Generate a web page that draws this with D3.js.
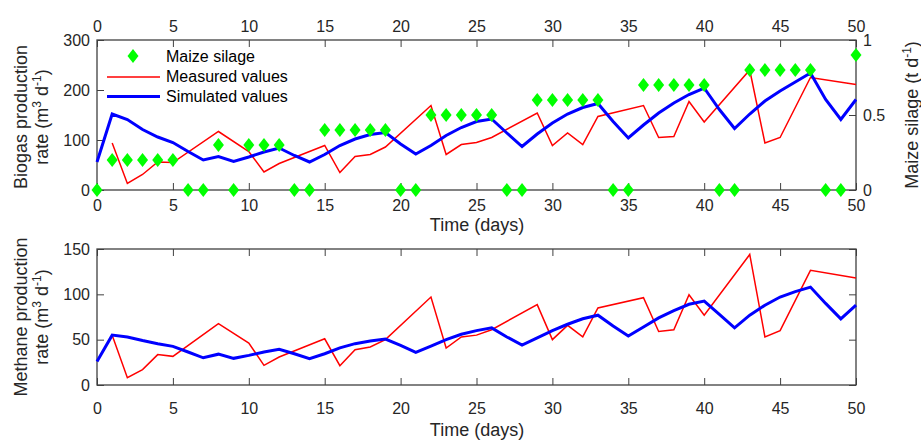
<!DOCTYPE html>
<meta charset="utf-8">
<script src="https://d3js.org/d3.v7.min.js"></script>
<style>
  body { margin: 0; background: #fff; font-family: Arial, "Liberation Sans", sans-serif; }
  .tick text { font-size: 16px; fill: #262626; font-family: Arial, "Liberation Sans", sans-serif; }
  .tick line { stroke: #404040; stroke-width: 1; }
  .title { font-size: 18px; fill: #262626; }
  .legend text { font-size: 16px; fill: #000; }
</style>
<div id="chart"></div>
<script>

// day index 0..50
var days = d3.range(0, 51);
var xTicks = [0, 5, 10, 15, 20, 25, 30, 35, 40, 45, 50];

// maize silage fed per day (t/d), right axis of top plot
var maize = [0, 0.2, 0.2, 0.2, 0.2, 0.2, 0, 0, 0.3, 0, 0.3, 0.3, 0.3, 0, 0,
  0.4, 0.4, 0.4, 0.4, 0.4, 0, 0, 0.5, 0.5, 0.5, 0.5, 0.5, 0, 0,
  0.6, 0.6, 0.6, 0.6, 0.6, 0, 0, 0.7, 0.7, 0.7, 0.7, 0.7, 0, 0,
  0.8, 0.8, 0.8, 0.8, 0.8, 0, 0, 0.9];

// days with a measurement
var measDays = [1, 2, 3, 4, 5, 8, 10, 11, 12, 15, 16, 17, 18, 19, 22, 23, 24, 25, 26,
  29, 30, 31, 32, 33, 36, 37, 38, 39, 40, 43, 44, 45, 47, 50];

var biogasMeasured = [94, 13, 31, 56, 55, 117, 77, 36, 53, 89, 35, 67, 71, 86, 169, 71, 91, 95, 105,
  154, 89, 114, 91, 147, 169, 105, 107, 177, 136, 240, 94, 105, 225, 211];

var biogasSimulated = [56, 152, 141, 121, 106, 95, 77, 60, 67, 57, 66, 76, 84, 69, 56,
  71, 89, 102, 111, 115, 92, 72, 89, 109, 125, 137, 142, 114, 87,
  112, 134, 152, 165, 173, 137, 104, 130, 154, 174, 191, 204, 161, 123,
  152, 178, 198, 216, 234, 181, 141, 181];

var methaneMeasured = [55, 8, 17, 33.5, 31.6, 67.6, 46.3, 21.7, 30.9, 51, 21.3, 39, 42, 50, 97, 40.8, 53, 55, 61,
  88.6, 50, 65.8, 53, 85, 96.3, 59, 61, 99.6, 77, 144, 53, 60, 126.5, 118];

var methaneSimulated = [26, 55, 53, 49, 45.6, 42.6, 36.4, 30, 34, 29.4, 32.7, 36.4, 39.3, 34.5, 29,
  34.5, 41, 45.6, 48.5, 50.7, 43.7, 36, 43, 50, 56, 60, 63, 53, 44,
  52, 60, 67, 73, 77, 65, 54, 64, 74, 82, 89, 92.6, 78, 63,
  77, 88, 97, 103, 108, 90, 73, 88];

var width = 921, height = 440;

var svg = d3.select("#chart")
  .append("svg")
  .attr("width", width)
  .attr("height", height);

var x = d3.scaleLinear().domain([0, 50]).range([97, 856]);
var yTop = d3.scaleLinear().domain([0, 300]).range([190, 40]);
var yMaize = d3.scaleLinear().domain([0, 1]).range([190, 40]);
var yBot = d3.scaleLinear().domain([0, 150]).range([385, 249]);

var tick = 7;
var boxColor = "#404040";

function frame(top, bottom, yScale, yTickVals, rightScale, rightTickVals, topLabels, bottomPad) {
  var g = svg.append("g");
  // bottom x axis
  g.append("g")
    .attr("transform", "translate(0," + bottom + ")")
    .call(d3.axisBottom(x).tickValues(xTicks).tickSize(-tick).tickSizeOuter(0).tickPadding(bottomPad));
  // top x axis
  g.append("g")
    .attr("transform", "translate(0," + top + ")")
    .call(d3.axisTop(x).tickValues(xTicks).tickSize(-tick).tickSizeOuter(0).tickPadding(8)
      .tickFormat(topLabels ? d3.format("d") : ""));
  // left y
  g.append("g")
    .attr("transform", "translate(97,0)")
    .call(d3.axisLeft(yScale).tickValues(yTickVals).tickSize(-tick).tickSizeOuter(0).tickPadding(7));
  // right y
  g.append("g")
    .attr("transform", "translate(856,0)")
    .call(d3.axisRight(rightScale).tickValues(rightTickVals).tickSize(-tick).tickSizeOuter(0).tickPadding(7)
      .tickFormat(rightScale === yMaize ? d3.format("") : ""));
  g.selectAll(".domain").remove();
  g.append("rect")
    .attr("x", 97).attr("y", top)
    .attr("width", 856 - 97).attr("height", bottom - top)
    .attr("fill", "none")
    .attr("stroke", boxColor)
    .attr("stroke-width", 1.3);
  return g;
}

frame(40, 190, yTop, [0, 100, 200, 300], yMaize, [0, 0.5, 1], true, 9.5);
frame(249, 385, yBot, [0, 50, 100, 150], yBot, [0, 50, 100, 150], false, 18);

var measLine = function(ys) {
  return d3.line().x(function(d, i) { return x(measDays[i]); }).y(function(d) { return ys(d); });
};
var simLine = function(ys) {
  return d3.line().x(function(d, i) { return x(days[i]); }).y(function(d) { return ys(d); });
};

// top plot lines
svg.append("path").datum(biogasMeasured)
  .attr("d", measLine(yTop)).attr("fill", "none").attr("stroke", "#ff0000").attr("stroke-width", 1.5);
svg.append("path").datum(biogasSimulated)
  .attr("d", simLine(yTop)).attr("fill", "none").attr("stroke", "#0000ff").attr("stroke-width", 3);

var diamond = "M0,-7L5.5,0L0,7L-5.5,0Z";
svg.selectAll(".maize")
  .data(maize)
  .enter().append("path")
  .attr("class", "maize")
  .attr("d", diamond)
  .attr("transform", function(d, i) { return "translate(" + x(days[i]) + "," + yMaize(d) + ")"; })
  .attr("fill", "#00ff00");

// bottom plot lines
svg.append("path").datum(methaneMeasured)
  .attr("d", measLine(yBot)).attr("fill", "none").attr("stroke", "#ff0000").attr("stroke-width", 1.5);
svg.append("path").datum(methaneSimulated)
  .attr("d", simLine(yBot)).attr("fill", "none").attr("stroke", "#0000ff").attr("stroke-width", 3);

// legend
var leg = svg.append("g").attr("class", "legend");
leg.append("path").attr("d", diamond).attr("transform", "translate(133,56)").attr("fill", "#00ff00");
leg.append("line").attr("x1", 107).attr("x2", 160).attr("y1", 77).attr("y2", 77)
  .attr("stroke", "#ff0000").attr("stroke-width", 1.5);
leg.append("line").attr("x1", 107).attr("x2", 160).attr("y1", 96.5).attr("y2", 96.5)
  .attr("stroke", "#0000ff").attr("stroke-width", 3);
leg.append("text").attr("x", 166).attr("y", 62).text("Maize silage");
leg.append("text").attr("x", 166).attr("y", 82).text("Measured values");
leg.append("text").attr("x", 166).attr("y", 102).text("Simulated values");

// titles
svg.append("text").attr("class", "title").attr("x", 477).attr("y", 231)
  .attr("text-anchor", "middle").text("Time (days)");
svg.append("text").attr("class", "title").attr("x", 477).attr("y", 436)
  .attr("text-anchor", "middle").text("Time (days)");

function unitTitle(tx, ty, before, sup1, mid, sup2, after) {
  var t = svg.append("text").attr("class", "title")
    .attr("transform", "translate(" + tx + "," + ty + ") rotate(-90)")
    .attr("text-anchor", "middle");
  t.append("tspan").text(before);
  t.append("tspan").attr("dy", -7).style("font-size", "12px").text(sup1);
  t.append("tspan").attr("dy", 7).text(mid);
  t.append("tspan").attr("dy", -7).style("font-size", "12px").text(sup2);
  t.append("tspan").attr("dy", 7).text(after);
}

function plainTitle(tx, ty, s) {
  svg.append("text").attr("class", "title")
    .attr("transform", "translate(" + tx + "," + ty + ") rotate(-90)")
    .attr("text-anchor", "middle").text(s);
}

plainTitle(27, 117, "Biogas production");
unitTitle(48, 117, "rate (m", "3", " d", "-1", ")");
plainTitle(27, 317, "Methane production");
unitTitle(48, 317, "rate (m", "3", " d", "-1", ")");

var rt = svg.append("text").attr("class", "title")
  .attr("transform", "translate(918,115) rotate(-90)")
  .attr("text-anchor", "middle");
rt.append("tspan").text("Maize silage (t d");
rt.append("tspan").attr("dy", -7).style("font-size", "12px").text("-1");
rt.append("tspan").attr("dy", 7).text(")");

</script>
